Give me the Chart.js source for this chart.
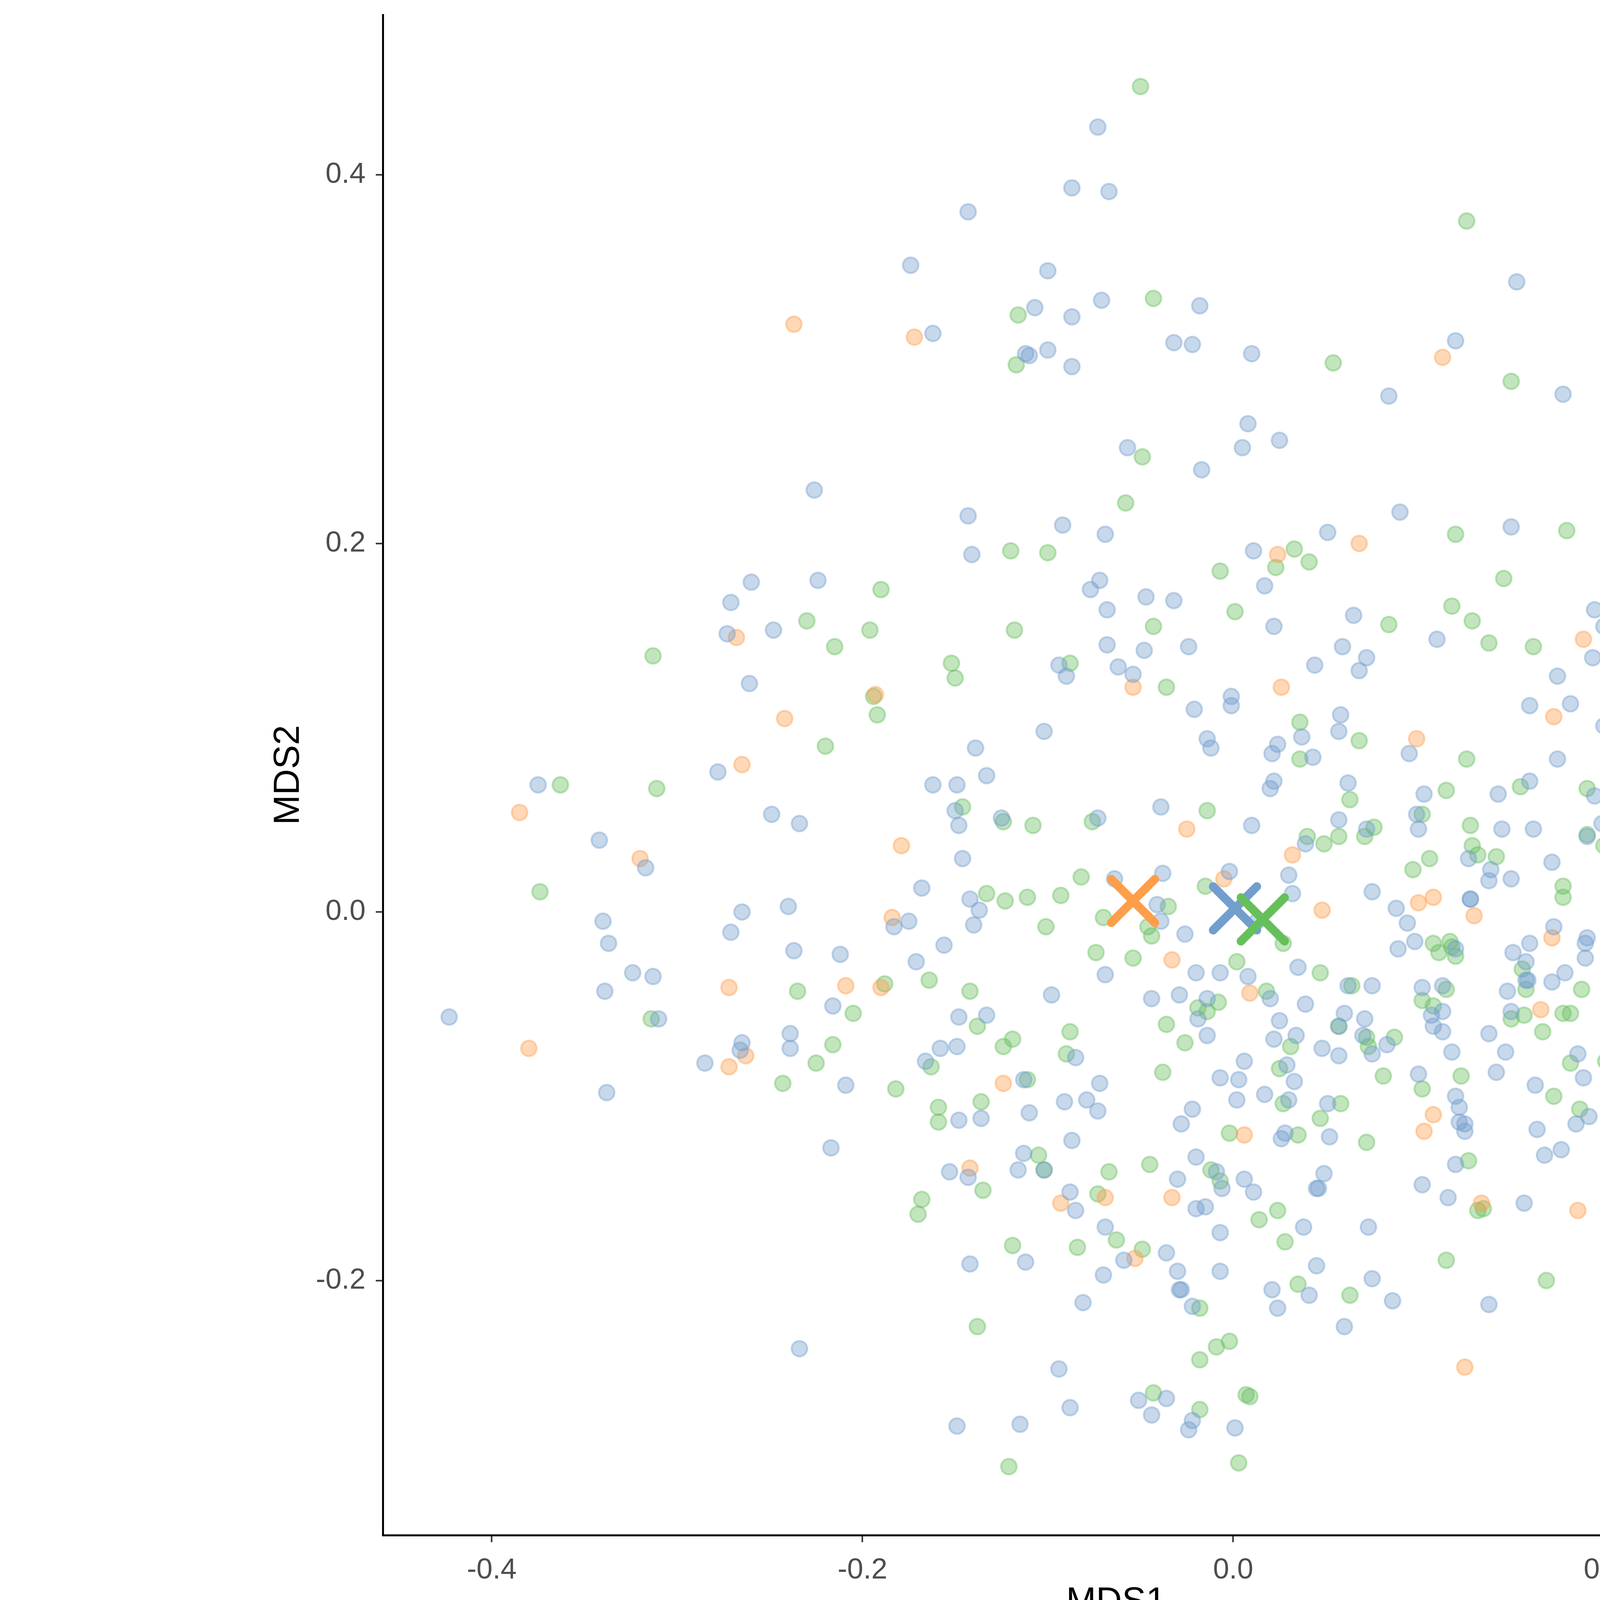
<!DOCTYPE html>
<html>
<head>
<meta charset="utf-8">
<script src="https://cdn.jsdelivr.net/npm/chart.js@4"></script>
<style>
  html, body { margin: 0; padding: 0; background: #fff; overflow: hidden; }
  canvas { display: block; }
</style>
</head>
<body>
<canvas id="mdsChart" width="6000" height="4200"></canvas>
<script>
// MDS coordinates per diagnosis group, [MDS1, MDS2]
const ade = [
  [-0.073,0.426],[-0.087,0.393],[-0.067,0.391],[-0.143,0.380],[-0.174,0.351],[-0.100,0.348],[-0.071,0.332],[-0.018,0.329],
  [-0.107,0.328],[-0.087,0.323],[-0.162,0.314],[-0.032,0.309],[-0.022,0.308],[0.010,0.303],[-0.112,0.303],[-0.110,0.302],
  [-0.100,0.305],[-0.087,0.296],[0.008,0.265],[0.153,0.342],[0.120,0.310],[0.084,0.280],[0.178,0.281],
  [-0.226,0.229],[-0.260,0.179],[-0.224,0.180],[-0.271,0.168],[-0.248,0.153],[-0.273,0.151],[-0.261,0.124],[-0.278,0.076],
  [-0.057,0.252],[0.005,0.252],[0.025,0.256],[-0.017,0.240],[-0.143,0.215],[-0.092,0.210],[-0.069,0.205],[0.051,0.206],
  [-0.141,0.194],[0.011,0.196],[-0.072,0.180],[-0.077,0.175],[0.017,0.177],[-0.047,0.171],[-0.032,0.169],[-0.068,0.164],
  [0.022,0.155],[-0.068,0.145],[-0.048,0.142],[-0.024,0.144],[-0.094,0.134],[-0.090,0.128],[-0.062,0.133],[-0.054,0.129],
  [0.044,0.134],[-0.001,0.117],[-0.001,0.112],[-0.021,0.110],[0.037,0.095],[-0.102,0.098],[-0.014,0.094],[-0.012,0.089],
  [0.024,0.091],[0.021,0.086],[0.043,0.084],[-0.139,0.089],[-0.133,0.074],
  [0.090,0.217],[0.150,0.209],[0.065,0.161],[0.195,0.164],[0.200,0.155],[0.110,0.148],[0.268,0.153],[0.059,0.144],
  [0.072,0.138],[0.068,0.131],[0.194,0.138],[0.175,0.128],[0.230,0.131],[0.243,0.132],[0.160,0.112],[0.182,0.113],
  [0.200,0.101],[0.058,0.107],[0.057,0.098],[0.095,0.086],[0.175,0.083],[0.261,0.090],[0.255,0.079],
  [-0.375,0.069],[-0.249,0.053],[-0.234,0.048],[-0.342,0.039],[-0.317,0.024],[-0.265,0.000],[-0.240,0.003],[-0.340,-0.005],
  [-0.271,-0.011],[-0.337,-0.017],[-0.237,-0.021],[-0.212,-0.023],[-0.324,-0.033],[-0.313,-0.035],[-0.339,-0.043],[-0.216,-0.051],
  [-0.423,-0.057],[-0.310,-0.058],[-0.239,-0.066],[-0.265,-0.071],[-0.266,-0.075],[-0.239,-0.074],[-0.285,-0.082],[-0.209,-0.094],
  [-0.338,-0.098],
  [-0.162,0.069],[-0.149,0.069],[0.022,0.071],[0.020,0.067],[-0.150,0.055],[-0.148,0.047],[-0.125,0.051],[-0.073,0.051],
  [-0.039,0.057],[0.010,0.047],[0.039,0.037],[-0.146,0.029],[-0.064,0.018],[-0.038,0.021],[-0.002,0.022],[0.030,0.020],
  [0.032,0.010],[-0.168,0.013],[-0.142,0.007],[-0.137,0.001],[-0.140,-0.007],[-0.183,-0.008],[-0.175,-0.005],[-0.041,0.004],
  [-0.039,-0.005],[-0.026,-0.012],[0.013,-0.005],[-0.156,-0.018],[-0.171,-0.027],[-0.069,-0.034],[-0.020,-0.033],[-0.007,-0.033],
  [0.008,-0.035],[0.035,-0.030],[-0.098,-0.045],[-0.044,-0.047],[-0.029,-0.045],[0.020,-0.047],[0.039,-0.050],[-0.014,-0.047],
  [-0.019,-0.058],[-0.014,-0.067],[0.025,-0.059],[0.034,-0.067],[0.022,-0.069],[0.048,-0.074],[-0.148,-0.057],[-0.133,-0.056],
  [-0.158,-0.074],[-0.149,-0.073],[-0.085,-0.079],[-0.166,-0.081],[0.006,-0.081],[0.029,-0.083],[-0.007,-0.090],[0.003,-0.091],
  [0.033,-0.092],[-0.113,-0.091],[-0.072,-0.093],[0.002,-0.102],[0.017,-0.099],[0.030,-0.102],[0.051,-0.104],[-0.091,-0.103],
  [-0.079,-0.102],[-0.073,-0.108],[-0.022,-0.107],[-0.110,-0.109],[-0.148,-0.113],[-0.136,-0.112],[-0.028,-0.115],
  [0.062,0.070],[0.103,0.064],[0.143,0.064],[0.160,0.071],[0.195,0.063],[0.230,0.063],[0.248,0.063],[0.057,0.050],
  [0.099,0.053],[0.072,0.045],[0.100,0.045],[0.145,0.045],[0.162,0.045],[0.199,0.048],[0.208,0.050],[0.191,0.041],
  [0.262,0.048],[0.288,0.049],[0.274,0.037],[0.127,0.029],[0.139,0.023],[0.138,0.017],[0.150,0.018],[0.172,0.027],
  [0.208,0.013],[0.294,0.012],[0.296,0.012],[0.075,0.011],[0.128,0.007],[0.128,0.007],[0.088,0.002],[0.094,-0.006],
  [0.173,-0.008],[0.191,-0.014],[0.190,-0.017],[0.190,-0.025],[0.231,-0.012],[0.242,-0.013],[0.271,-0.015],[0.098,-0.016],
  [0.089,-0.020],[0.120,-0.020],[0.151,-0.022],[0.160,-0.017],[0.158,-0.027],[0.179,-0.033],[0.158,-0.037],[0.159,-0.037],
  [0.172,-0.038],[0.148,-0.043],[0.062,-0.040],[0.075,-0.040],[0.102,-0.041],[0.113,-0.040],[0.113,-0.054],[0.107,-0.056],
  [0.108,-0.062],[0.113,-0.065],[0.060,-0.055],[0.071,-0.058],[0.057,-0.062],[0.070,-0.067],[0.075,-0.077],[0.083,-0.072],
  [0.057,-0.078],[0.150,-0.054],[0.138,-0.066],[0.227,-0.057],[0.253,-0.057],[0.287,-0.057],[0.118,-0.076],[0.147,-0.076],
  [0.186,-0.077],[0.261,-0.081],[0.100,-0.088],[0.142,-0.087],[0.189,-0.090],[0.163,-0.094],[0.120,-0.100],[0.122,-0.106],
  [0.192,-0.111],[0.281,-0.114],[0.122,-0.114],[0.125,-0.115],[0.125,-0.119],[0.164,-0.118],[0.185,-0.115],
  [-0.217,-0.128],[-0.234,-0.237],
  [0.028,-0.120],[0.026,-0.123],[0.052,-0.122],[-0.087,-0.124],[-0.113,-0.131],[-0.153,-0.141],[-0.143,-0.144],[-0.116,-0.140],
  [-0.102,-0.140],[-0.020,-0.133],[-0.009,-0.141],[-0.006,-0.150],[-0.030,-0.145],[0.006,-0.145],[0.011,-0.152],[0.049,-0.142],
  [0.045,-0.150],[0.046,-0.150],[-0.088,-0.152],[-0.085,-0.162],[-0.020,-0.161],[-0.015,-0.160],[-0.069,-0.171],[-0.007,-0.174],
  [0.038,-0.171],[-0.036,-0.185],[-0.059,-0.189],[-0.142,-0.191],[-0.112,-0.190],[-0.070,-0.197],[-0.030,-0.195],[-0.007,-0.195],
  [0.045,-0.192],[-0.029,-0.205],[-0.028,-0.205],[0.021,-0.205],[0.041,-0.208],[-0.081,-0.212],[-0.022,-0.214],[0.024,-0.215],
  [-0.094,-0.248],[-0.051,-0.265],[-0.036,-0.264],[-0.088,-0.269],[-0.044,-0.273],[-0.022,-0.276],[-0.024,-0.281],[0.001,-0.280],
  [-0.149,-0.279],[-0.115,-0.278],
  [0.168,-0.132],[0.177,-0.129],[0.120,-0.137],[0.102,-0.148],[0.116,-0.155],[0.157,-0.158],[0.073,-0.171],[0.075,-0.199],
  [0.086,-0.211],[0.138,-0.213],[0.060,-0.225]
];

const crc = [
  [-0.237,0.319],[-0.172,0.312],[0.113,0.301],[0.024,0.194],[-0.054,0.122],[0.026,0.122],[0.068,0.200],[0.189,0.148],
  [0.173,0.106],[0.099,0.094],[-0.268,0.149],[-0.193,0.118],[-0.242,0.105],[-0.265,0.080],[-0.385,0.054],[-0.320,0.029],
  [-0.272,-0.041],[-0.209,-0.040],[-0.190,-0.041],[-0.380,-0.074],[-0.263,-0.078],[-0.272,-0.084],[-0.179,0.036],[-0.025,0.045],
  [0.032,0.031],[-0.005,0.018],[0.048,0.001],[-0.184,-0.003],[-0.033,-0.026],[0.009,-0.044],[-0.124,-0.093],[0.100,0.005],
  [0.108,0.008],[0.130,-0.002],[0.172,-0.014],[0.166,-0.053],[0.108,-0.110],[0.103,-0.119],
  [0.006,-0.121],[-0.142,-0.139],[-0.093,-0.158],[-0.069,-0.155],[-0.033,-0.155],[-0.053,-0.188],
  [0.134,-0.158],[0.186,-0.162],[0.125,-0.247]
];

const ctl = [
  [-0.050,0.448],[-0.043,0.333],[-0.116,0.324],[0.054,0.298],[-0.117,0.297],[0.126,0.375],[0.150,0.288],
  [-0.190,0.175],[-0.230,0.158],[-0.196,0.153],[-0.215,0.144],[-0.313,0.139],[-0.194,0.117],[-0.192,0.107],[-0.220,0.090],
  [-0.049,0.247],[-0.058,0.222],[-0.120,0.196],[-0.100,0.195],[0.033,0.197],[0.041,0.190],[-0.007,0.185],[0.023,0.187],
  [0.001,0.163],[-0.043,0.155],[-0.118,0.153],[-0.152,0.135],[-0.150,0.127],[-0.088,0.135],[-0.036,0.122],[0.036,0.103],
  [0.036,0.083],
  [0.237,0.250],[0.218,0.227],[0.238,0.221],[0.209,0.213],[0.120,0.205],[0.180,0.207],[0.146,0.181],[0.118,0.166],
  [0.084,0.156],[0.129,0.158],[0.138,0.146],[0.162,0.144],[0.276,0.149],[0.217,0.114],[0.294,0.110],[0.290,0.106],
  [0.068,0.093],[0.126,0.083],[0.227,0.080],[0.245,0.082],[0.244,0.077],
  [-0.363,0.069],[-0.311,0.067],[-0.374,0.011],[-0.235,-0.043],[-0.188,-0.039],[-0.205,-0.055],[-0.314,-0.058],[-0.216,-0.072],
  [-0.225,-0.082],[-0.243,-0.093],
  [-0.146,0.057],[-0.124,0.049],[-0.108,0.047],[-0.076,0.049],[-0.014,0.055],[0.040,0.041],[0.049,0.037],[0.057,0.041],
  [-0.082,0.019],[-0.015,0.014],[-0.133,0.010],[-0.123,0.006],[-0.111,0.008],[-0.093,0.009],[-0.101,-0.008],[-0.070,-0.003],
  [-0.035,0.003],[-0.046,-0.008],[-0.044,-0.013],[0.027,-0.017],[-0.074,-0.022],[-0.054,-0.025],[0.002,-0.027],[0.047,-0.033],
  [-0.164,-0.037],[-0.142,-0.043],[0.018,-0.043],[-0.008,-0.049],[-0.019,-0.052],[-0.014,-0.054],[-0.036,-0.061],[-0.026,-0.071],
  [0.031,-0.073],[-0.138,-0.062],[-0.088,-0.065],[-0.119,-0.069],[-0.124,-0.073],[-0.090,-0.077],[-0.163,-0.084],[0.025,-0.085],
  [-0.038,-0.087],[-0.182,-0.096],[-0.111,-0.091],[0.027,-0.104],[-0.159,-0.106],[-0.136,-0.103],[0.047,-0.112],[-0.159,-0.114],
  [0.063,0.061],[0.115,0.066],[0.155,0.068],[0.191,0.067],[0.222,0.060],[0.232,0.058],[0.102,0.053],[0.076,0.046],
  [0.071,0.041],[0.128,0.047],[0.191,0.042],[0.200,0.036],[0.106,0.029],[0.097,0.023],[0.129,0.036],[0.132,0.031],
  [0.142,0.030],[0.178,0.014],[0.178,0.008],[0.108,-0.017],[0.117,-0.016],[0.118,-0.019],[0.111,-0.022],[0.120,-0.024],
  [0.156,-0.031],[0.158,-0.042],[0.188,-0.042],[0.203,-0.037],[0.208,-0.045],[0.064,-0.040],[0.115,-0.042],[0.102,-0.048],
  [0.108,-0.051],[0.057,-0.062],[0.072,-0.068],[0.073,-0.073],[0.087,-0.068],[0.157,-0.056],[0.150,-0.058],[0.178,-0.055],
  [0.182,-0.055],[0.167,-0.065],[0.221,-0.051],[0.182,-0.082],[0.201,-0.081],[0.081,-0.089],[0.123,-0.089],[0.102,-0.096],
  [0.233,-0.093],[0.237,-0.098],[0.173,-0.100],[0.058,-0.104],[0.223,-0.104],[0.187,-0.107],[0.243,-0.114],
  [-0.002,-0.120],[0.035,-0.121],[-0.105,-0.132],[-0.102,-0.140],[-0.067,-0.141],[-0.045,-0.137],[-0.012,-0.140],[-0.007,-0.146],
  [-0.135,-0.151],[-0.168,-0.156],[-0.170,-0.164],[-0.073,-0.153],[0.014,-0.167],[0.024,-0.162],[0.028,-0.179],[-0.063,-0.178],
  [-0.119,-0.181],[-0.084,-0.182],[-0.049,-0.183],[0.035,-0.202],[-0.018,-0.215],[-0.138,-0.225],[-0.002,-0.233],[-0.009,-0.236],
  [-0.018,-0.243],[-0.043,-0.261],[0.007,-0.262],[0.009,-0.263],[-0.018,-0.270],[-0.121,-0.301],[0.003,-0.299],
  [0.072,-0.125],[0.127,-0.135],[0.132,-0.162],[0.135,-0.161],[0.115,-0.189],[0.169,-0.200],[0.063,-0.208]
];

// group centroids, drawn as crosses (CRC, ADE, CTL draw order)
const centroidGroups = ['CRC', 'ADE', 'CTL'];
const centroids = [[-0.054, 0.006], [0.001, 0.002], [0.016, -0.004]];

const groups = ['ADE', 'CRC', 'CTL'];
const groupColors = { ADE: '#729ECE', CRC: '#FF9E4A', CTL: '#67BF5C' };
const groupFills = { ADE: 'rgba(114,158,206,0.4)', CRC: 'rgba(255,158,74,0.4)', CTL: 'rgba(103,191,92,0.4)' };

const xTicks = [-0.4, -0.2, 0.0, 0.2];
const yTicks = [-0.2, 0.0, 0.2, 0.4];

const FONT = '"Liberation Sans", Arial, Helvetica, sans-serif';

function toPoints(arr) {
  return arr.map(p => ({ x: p[0], y: p[1] }));
}

function pointSet(name, arr, order) {
  return {
    label: name,
    data: toPoints(arr),
    backgroundColor: groupFills[name],
    borderColor: groupFills[name],
    borderWidth: 5,
    pointRadius: 20,
    order: order
  };
}

// no extra label padding, so the plot box sits where the layout puts it
function fixPadding(s) {
  s.paddingTop = 0;
  s.paddingBottom = 0;
  s.paddingLeft = 0;
  s.paddingRight = 0;
}

// round caps for the centroid crosses + the legend on the right
const crossPlugin = {
  id: 'crossPlugin',
  beforeDatasetDraw(chart, args) {
    if (args.meta.label === 'centroids') {
      chart.ctx.save();
      chart.ctx.lineCap = 'round';
    }
  },
  afterDatasetDraw(chart, args) {
    if (args.meta.label === 'centroids') chart.ctx.restore();
  },
  afterDraw(chart) {
    const ctx = chart.ctx;
    ctx.save();
    ctx.fillStyle = '#000';
    ctx.textBaseline = 'middle';
    ctx.textAlign = 'left';
    ctx.font = '92px ' + FONT;
    ctx.fillText('diagnosis', 4872, 1757);
    const rows = [1910, 2059, 2204];
    const half = 48;
    ctx.lineWidth = 22;
    ctx.lineCap = 'round';
    groups.forEach((g, i) => {
      const cx = 4937, cy = rows[i];
      ctx.strokeStyle = groupColors[g];
      ctx.beginPath();
      ctx.moveTo(cx - half, cy - half);
      ctx.lineTo(cx + half, cy + half);
      ctx.moveTo(cx - half, cy + half);
      ctx.lineTo(cx + half, cy - half);
      ctx.stroke();
      ctx.font = '74px ' + FONT;
      ctx.fillStyle = '#000';
      ctx.fillText(g, 5059, cy);
    });
    ctx.restore();
  }
};

window.onload = function() {
  const ctx = document.getElementById('mdsChart').getContext('2d');

  new Chart(ctx, {
    type: 'scatter',
    data: {
      datasets: [
        {
          label: 'centroids',
          data: toPoints(centroids),
          pointStyle: 'crossRot',
          pointRadius: 79,
          borderWidth: 22,
          borderColor: centroidGroups.map(g => groupColors[g]),
          backgroundColor: centroidGroups.map(g => groupColors[g]),
          order: 0
        },
        pointSet('ADE', ade, 1),
        pointSet('CRC', crc, 2),
        pointSet('CTL', ctl, 3)
      ]
    },
    options: {
      responsive: false,
      devicePixelRatio: 1,
      animation: false,
      layout: { autoPadding: false, padding: { top: 38, right: 1266, left: 0, bottom: 0 } },
      plugins: {
        legend: { display: false },
        tooltip: { enabled: false }
      },
      scales: {
        x: {
          type: 'linear',
          min: -0.4588,
          max: 0.3324,
          afterFit: s => { s.height = 270; fixPadding(s); },
          afterBuildTicks: s => { s.ticks = xTicks.map(v => ({ value: v })); },
          grid: { drawOnChartArea: false, drawTicks: true, tickLength: 18, tickWidth: 4, tickColor: '#333' },
          border: { display: true, color: '#000', width: 5 },
          ticks: {
            autoSkip: false,
            padding: 28,
            color: '#4d4d4d',
            font: { family: FONT, size: 74 },
            callback: v => Number(v).toFixed(1)
          },
          title: {
            display: true,
            text: 'MDS1',
            color: '#000',
            font: { family: FONT, size: 92 },
            padding: { top: 0, bottom: 42 }
          }
        },
        y: {
          type: 'linear',
          min: -0.3382,
          max: 0.4869,
          afterFit: s => { s.width = 980; fixPadding(s); },
          afterBuildTicks: s => { s.ticks = yTicks.map(v => ({ value: v })); },
          grid: { drawOnChartArea: false, drawTicks: true, tickLength: 18, tickWidth: 4, tickColor: '#333' },
          border: { display: true, color: '#000', width: 5 },
          ticks: {
            autoSkip: false,
            padding: 26,
            color: '#4d4d4d',
            font: { family: FONT, size: 74 },
            callback: v => Number(v).toFixed(1)
          },
          title: {
            display: true,
            text: 'MDS2',
            color: '#000',
            font: { family: FONT, size: 92 },
            padding: { top: 684, bottom: 0 }
          }
        }
      }
    },
    plugins: [crossPlugin]
  });
};
</script>
</body>
</html>
